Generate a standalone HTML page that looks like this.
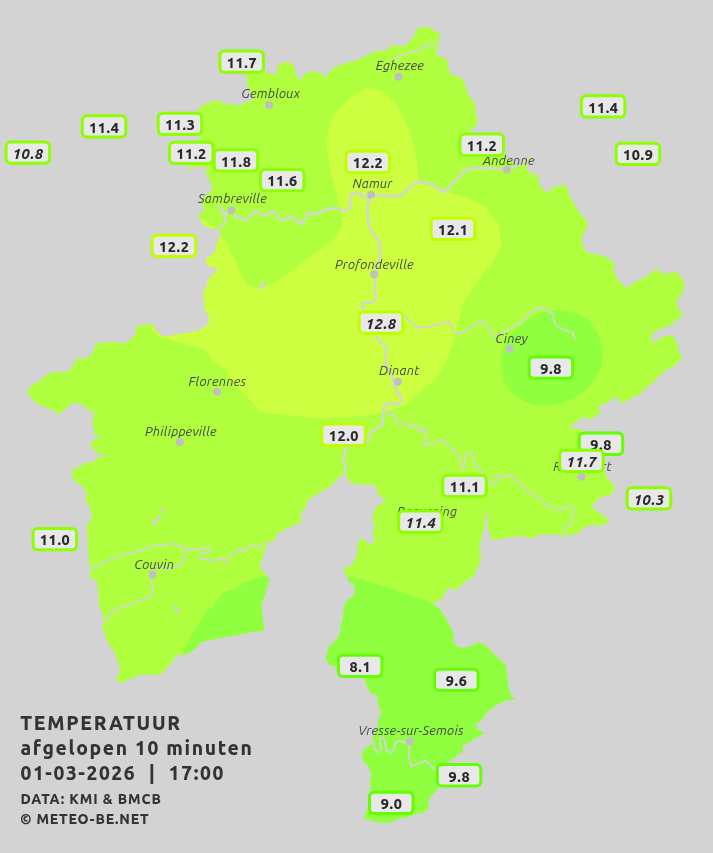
<!DOCTYPE html>
<html><head><meta charset="utf-8"><title>Temperatuur</title>
<style>
html,body{margin:0;padding:0;background:#d3d3d3;}
body{width:713px;height:853px;overflow:hidden;}
svg{display:block;}
.c{font-family:'Ubuntu', 'Liberation Sans', 'DejaVu Sans', sans-serif;font-style:italic;font-size:13px;letter-spacing:0.25px;fill:#454545;}
.l{font-family:'Ubuntu', 'Liberation Sans', 'DejaVu Sans', sans-serif;font-weight:800;font-size:14.5px;letter-spacing:0.6px;fill:#2a2a2a;}
.li{font-style:italic;}
.t{font-family:'Ubuntu', 'Liberation Sans', 'DejaVu Sans', sans-serif;font-weight:800;fill:#333;}
</style></head><body>
<svg width="713" height="853" viewBox="0 0 713 853">
<defs><clipPath id="prov"><polygon points="197.8,111.9 198.5,108.4 200.6,106.3 204.8,104.2 209.0,102.8 213.2,100.7 217.4,100.7 221.6,101.4 224.5,104.9 228.7,103.5 232.9,104.2 237.1,105.6 239.9,106.3 242.7,103.5 246.9,102.1 251.1,100.7 253.9,97.9 251.1,93.7 249.0,89.5 247.6,85.2 246.9,79.6 246.2,74.0 247.0,70.0 264.4,71.2 269.3,73.3 273.5,74.7 277.7,72.6 277.7,65.6 280.6,63.5 286.2,62.1 291.8,63.5 293.5,65.4 296.0,73.0 298.6,80.0 302.3,78.0 306.0,73.0 313.7,71.2 321.3,73.0 326.3,78.0 328.9,73.0 331.4,69.2 339.0,65.4 346.5,62.9 356.6,60.4 366.7,55.3 375.1,51.6 380.0,50.9 386.7,50.3 390.1,47.5 390.7,44.2 394.6,45.9 402.4,46.4 406.9,44.2 411.4,39.1 414.8,35.2 415.3,30.1 420.4,26.8 424.9,27.9 428.2,26.2 431.6,28.5 435.0,32.4 438.3,31.8 440.6,34.1 438.3,37.4 438.9,41.9 439.5,44.7 438.3,47.5 436.1,52.0 437.2,54.8 442.8,57.6 447.3,59.9 448.4,63.2 447.3,66.6 449.6,71.1 451.8,75.0 459.7,76.8 463.5,80.6 466.0,86.9 467.3,93.2 471.1,98.3 474.9,103.3 476.1,113.4 477.7,120.0 476.8,125.0 471.8,128.4 470.0,135.0 480.0,150.0 504.6,155.3 510.5,162.1 518.9,164.6 527.3,158.7 532.4,155.3 530.7,157.9 527.3,162.1 527.3,170.5 530.7,173.9 537.4,174.7 540.8,175.5 537.4,178.1 539.1,184.0 544.1,190.7 547.5,193.2 551.7,189.0 555.9,186.5 564.3,184.8 567.7,189.0 570.2,197.4 574.4,204.1 577.8,210.0 580.0,213.4 586.3,219.7 587.6,226.0 581.3,238.7 583.8,248.8 588.0,252.5 591.1,253.8 599.9,255.0 606.2,257.6 613.8,261.4 613.8,270.2 616.3,277.8 626.4,287.9 634.0,282.8 644.1,277.8 656.7,268.9 664.3,274.0 671.9,272.7 676.9,271.5 679.4,275.2 684.5,282.8 683.2,291.7 676.9,300.5 678.2,309.3 683.2,313.1 679.4,318.2 669.3,325.7 659.2,329.5 651.7,334.6 651.7,343.4 656.7,340.9 664.3,335.8 671.9,335.8 676.9,340.9 678.2,351.0 682.0,358.6 674.4,366.1 664.3,371.2 659.2,376.2 654.2,381.3 646.6,387.6 640.0,394.0 624.2,401.7 619.9,403.1 616.4,396.8 610.1,400.3 605.9,403.8 598.9,405.2 598.2,408.0 601.7,412.3 596.1,415.1 589.1,420.7 584.9,416.5 579.3,419.3 575.1,422.8 570.2,426.3 572.3,428.4 580.7,429.1 585.0,433.0 600.0,440.0 605.0,460.0 601.2,465.8 603.7,470.0 605.6,473.8 606.9,477.6 610.7,481.4 613.2,485.1 615.7,488.9 612.0,492.1 610.7,495.2 608.2,496.5 605.0,495.2 601.9,497.1 598.1,499.7 594.3,502.8 592.4,505.3 593.0,507.9 595.5,510.4 599.3,511.7 601.9,514.8 606.3,517.3 608.2,519.9 606.9,523.6 601.9,525.5 590.5,525.5 586.7,526.2 583.5,528.1 581.0,529.3 581.7,531.9 577.9,533.1 572.8,534.4 569.0,535.6 566.5,536.3 561.5,536.3 560.8,534.4 552.6,534.4 540.6,534.5 532.2,538.7 521.0,535.9 509.8,537.3 501.3,538.7 491.5,540.1 490.1,534.5 487.3,526.1 488.7,514.9 485.9,513.5 484.5,526.1 480.3,542.9 478.9,551.3 481.7,554.2 478.9,565.4 473.3,576.6 464.9,582.2 455.1,590.6 448.1,586.4 445.2,593.4 440.8,599.5 434.9,602.4 433.4,605.3 439.3,608.3 445.2,617.1 449.6,626.0 454.0,633.3 452.5,640.7 457.0,646.6 464.3,648.1 473.2,645.1 479.1,642.2 484.9,645.1 489.4,649.5 496.7,656.9 505.6,664.3 507.0,676.0 508.5,687.8 511.5,696.7 515.9,699.6 506.6,700.1 496.5,705.1 486.4,712.7 481.4,720.3 475.1,725.3 477.6,729.1 483.9,732.9 476.3,738.0 467.5,743.0 461.2,746.8 463.7,750.6 454.9,756.9 446.0,763.2 439.7,768.3 440.0,780.0 438.5,787.2 435.9,791.0 430.9,796.0 428.4,801.1 428.4,808.7 423.3,812.4 415.7,813.7 410.7,816.2 398.1,818.8 390.5,822.5 377.9,822.5 370.3,820.0 364.0,818.8 365.2,813.7 367.8,808.7 370.3,804.9 370.3,791.0 370.3,778.4 371.6,773.3 367.8,765.7 364.0,762.0 361.5,755.6 365.2,748.1 372.8,744.3 371.6,739.2 375.3,732.9 377.9,725.3 379.1,717.8 381.7,714.0 379.1,707.7 377.9,700.1 376.6,695.0 371.5,693.7 367.1,687.8 364.2,677.5 350.0,670.0 337.7,667.2 328.8,664.3 325.9,658.4 327.4,651.0 330.3,645.1 336.2,640.7 340.6,631.9 340.6,626.0 343.6,614.2 344.0,605.6 348.2,599.9 353.8,595.7 355.2,587.3 352.4,583.1 348.2,581.7 348.2,577.5 344.0,571.9 344.0,567.7 351.0,566.3 355.2,559.3 358.0,550.9 357.3,543.9 361.1,537.6 366.1,541.4 371.2,545.2 375.0,540.1 372.4,533.8 375.0,526.2 372.4,518.7 375.0,508.6 381.3,503.5 386.3,499.7 378.8,495.9 376.2,487.1 371.2,484.6 361.1,484.6 351.0,483.3 347.2,478.3 344.7,472.0 338.4,478.3 330.8,485.8 320.7,492.1 310.6,498.5 306.8,501.0 306.8,506.0 300.5,513.6 301.8,521.2 300.5,522.8 286.5,528.4 276.6,534.0 275.2,539.6 268.2,542.4 264.0,550.9 262.6,559.3 259.8,564.9 262.6,570.5 266.8,576.1 269.6,580.3 266.8,587.3 264.0,598.5 261.2,604.2 262.6,615.4 264.0,630.7 251.3,632.1 237.3,634.9 220.5,637.7 200.9,641.9 196.6,647.5 189.6,653.1 181.2,655.1 176.4,654.9 172.9,660.5 170.1,664.7 167.3,667.5 163.1,671.7 158.9,675.6 151.9,674.2 146.3,674.8 142.1,674.5 137.9,675.2 133.7,678.0 128.0,679.4 125.2,681.5 121.0,683.6 119.6,681.5 115.4,680.1 116.8,677.3 119.6,673.1 119.6,666.1 116.8,657.7 114.0,650.7 108.4,643.7 105.6,636.6 102.8,628.2 102.1,624.0 102.8,617.0 101.4,610.0 99.6,607.7 98.2,593.7 96.8,579.6 91.2,579.6 89.8,571.2 89.2,561.3 88.0,551.2 88.0,541.1 86.7,531.0 86.7,524.7 90.5,520.9 91.8,513.3 89.2,505.7 85.4,500.7 86.7,493.1 84.2,488.1 79.1,484.3 75.3,481.8 71.6,475.4 72.8,469.1 80.4,466.6 85.4,462.8 94.3,461.6 96.8,457.8 106.9,455.2 99.3,454.0 94.3,450.2 90.5,446.4 92.0,441.4 95.7,438.9 100.8,436.3 93.2,433.8 94.5,428.8 92.0,423.7 93.2,418.7 94.5,411.1 88.2,411.1 85.6,406.0 80.6,404.8 74.3,402.2 69.2,406.0 62.9,411.1 59.1,414.9 54.1,411.1 49.0,408.6 42.7,406.0 36.4,403.5 31.4,397.2 27.6,394.7 28.8,388.4 32.6,384.6 40.2,380.8 45.2,375.7 52.8,372.0 65.4,372.0 69.2,370.7 71.8,366.9 74.3,364.4 75.5,359.3 80.6,358.6 88.2,358.1 90.7,354.3 94.5,349.2 95.7,342.9 103.3,342.9 113.4,341.7 121.0,342.9 126.0,342.9 131.1,339.1 134.9,335.3 136.1,330.3 137.4,325.2 143.7,325.2 148.8,324.0 152.5,324.0 153.8,327.8 158.9,332.8 160.1,335.2 165.1,336.4 180.3,333.9 195.4,331.4 205.5,327.6 209.3,321.3 208.1,313.7 204.3,308.7 204.3,301.1 203.0,296.0 204.3,291.0 206.8,285.9 209.3,278.4 211.9,274.6 218.2,272.0 215.6,268.3 208.1,265.7 205.5,260.7 208.1,256.9 211.9,254.4 215.6,250.6 216.9,244.3 219.4,238.0 220.7,232.9 216.9,229.1 209.3,227.9 204.3,225.3 201.8,221.6 198.0,217.8 199.2,215.2 204.3,210.2 201.8,202.6 203.1,196.8 208.2,194.2 211.5,190.9 211.5,184.1 208.2,177.4 205.6,170.7 207.3,166.5 193.9,166.5 188.0,172.4 191.0,165.0 199.0,150.0 199.7,139.5 198.9,136.2 198.9,113.5"/></clipPath></defs>
<rect width="713" height="853" fill="#d3d3d3"/>
<g clip-path="url(#prov)">
<rect x="0" y="0" width="713" height="853" fill="#afff3f"/>
<polygon points="366.3,86.9 381.7,90.8 389.4,97.0 397.2,106.2 403.3,117.0 409.5,129.4 412.6,141.7 415.7,154.1 417.2,166.4 418.8,178.8 422.0,184.0 445.0,191.1 466.6,197.2 485.1,206.5 497.5,221.9 501.9,244.3 494.7,258.6 480.4,277.7 463.3,303.3 459.0,320.1 454.8,337.0 448.5,358.1 435.8,379.2 421.1,391.8 408.4,402.4 399.4,406.8 380.3,413.6 361.2,416.0 323.1,418.4 299.2,416.0 273.6,414.3 260.2,412.0 255.7,406.4 248.9,398.5 242.2,391.8 235.5,385.1 228.7,378.3 226.5,370.5 219.8,366.0 210.8,359.3 208.5,351.4 199.6,348.0 188.3,344.7 174.9,341.3 159.2,336.8 152.0,330.0 150.0,320.0 150.0,300.0 180.0,220.0 200.0,218.6 206.2,221.7 212.3,226.3 221.6,235.5 227.8,244.8 233.9,257.1 240.1,272.6 246.3,283.0 252.0,286.5 258.4,288.3 266.8,285.6 273.1,282.6 280.0,278.8 286.4,274.5 304.9,260.2 323.4,247.9 335.8,237.1 341.9,226.3 341.9,213.9 337.7,200.0 335.4,188.0 331.6,175.7 328.5,161.8 326.9,147.9 327.7,134.0 330.8,120.1 337.0,110.9 347.8,100.1 358.6,92.3" fill="#ccff3f"/>
<polygon points="558.5,310.6 578.2,313.6 590.0,321.4 597.8,333.2 602.7,348.9 601.7,364.6 595.8,378.4 586.0,390.1 570.3,400.0 554.6,404.9 538.9,405.8 525.2,401.9 511.4,392.1 503.6,380.3 501.2,366.6 501.6,352.8 505.5,341.0 515.3,329.3 531.1,317.5 544.8,311.6" fill="#8fff3f"/>
<polygon points="272.0,572.0 268.3,574.3 245.9,581.3 237.1,588.0 223.4,592.6 211.8,607.7 206.6,609.4 195.0,630.1 192.6,631.8 184.2,650.0 181.0,655.4 170.0,680.0 300.0,700.0 300.0,570.0" fill="#8fff3f"/>
<polygon points="310.0,566.0 348.0,575.9 390.0,588.0 434.9,603.9 445.0,607.0 520.0,620.0 540.0,830.0 310.0,830.0" fill="#8fff3f"/>
<polygon points="161.3,507.3 164.6,508.4 164.6,510.7 163.0,511.8 162.7,513.7 161.3,513.7" fill="#d3d3d3"/><polygon points="158.5,515.1 159.9,515.7 159.3,518.0 157.9,521.3 154.0,525.8 152.0,524.4 153.4,521.3 156.2,517.4" fill="#d3d3d3"/><polygon points="173.2,605.1 174.9,605.4 176.8,606.8 178.5,609.6 178.5,611.3 180.8,613.2 179.6,613.8 177.4,612.4 176.3,612.7 176.0,610.1 173.5,608.5" fill="#d3d3d3"/><polygon points="261.1,282.2 264.7,282.2 265.8,283.9 264.7,286.4 260.5,288.5 259.7,290.6 258.2,290.2 258.4,288.1 261.1,286.0" fill="#d3d3d3"/>
</g>
<g fill="none" stroke="#d4d4da" stroke-width="2.4" stroke-linejoin="round" stroke-linecap="round">
<polyline points="218.5,206.2 223.1,213.9 230.9,210.9 237.0,217.0 246.3,220.1 255.5,210.9 264.8,215.5 274.0,210.9 280.2,220.1 292.6,217.0 301.8,224.7 308.0,212.4 317.2,213.9 326.5,209.3 335.8,207.8 345.0,211.3 347.9,210.5 350.1,206.1 350.9,198.8 352.3,193.7 356.7,192.2 361.1,193.7 362.6,197.3 368.5,198.1 370.7,195.1" stroke-width="2.5"/>
<polyline points="218.5,206.2 225.7,215.2 224.5,222.8 218.2,229.1" stroke-width="2.5"/>
<polyline points="370.7,195.1 369.2,200.3 367.7,206.1 367.7,216.4 368.5,225.2 372.1,232.5 377.3,238.4 380.2,245.7 380.2,254.5 378.0,263.3 375.8,272.1 373.6,275.1 375.8,279.5 374.3,289.7 376.5,298.5 371.4,302.9 362.6,302.9 361.9,307.3 364.1,310.3" stroke-width="2.5"/>
<polyline points="375.6,336.6 386.9,348.8 385.0,361.9 388.5,369.0 390.3,374.0 393.0,379.0 394.5,385.0 396.5,390.0 399.4,395.0 401.9,400.0 398.5,404.3 391.8,403.4 386.7,403.4 383.4,408.5 383.4,416.9 381.7,425.3 377.5,427.5 371.9,431.3 366.3,442.5 345.6,448.1 343.4,458.1 345.9,468.2 344.7,472.0" stroke-width="2.5"/>
<polyline points="370.7,195.1 374.3,196.6 380.2,195.1 389.0,195.9 395.6,196.5 401.9,195.2 408.2,188.9 415.8,182.6 423.4,181.8 435.8,186.5 445.0,192.6 454.3,181.8 466.6,169.5 476.8,168.0 485.1,167.9 507.1,169.6 527.3,162.0" stroke-width="2.5"/>
<polyline points="388.4,410.1 390.1,415.2 393.5,415.2 396.0,416.9 396.8,422.8 400.2,424.5 405.2,422.8 411.1,427.8 415.3,423.6 419.5,432.0 424.6,427.8 426.3,431.2 425.4,435.4 427.1,440.4 422.9,445.5 426.3,443.0 430.5,444.6 435.5,443.8 440.6,440.4 445.6,440.4 447.3,445.5 452.4,448.9 457.4,453.1 459.9,459.0 462.5,467.4 464.1,469.0 465.0,457.3 467.5,453.9 472.6,453.1 474.2,459.0 475.1,465.7 479.3,468.2 481.0,472.4 488.5,478.6 490.2,481.9 490.8,484.2 495.2,484.0 496.9,481.9 495.8,475.8 497.5,474.6 502.5,478.0 507.0,475.2 509.8,474.1 512.6,476.3 514.9,479.1 519.4,483.6 522.7,485.3 524.4,488.1 526.1,490.9 529.5,493.1 534.0,495.4 537.3,497.6 541.8,500.4 545.0,502.8 547.6,506.6 552.6,507.2 558.9,509.8 564.0,507.9 567.8,506.0 571.6,506.0 573.5,509.1 572.8,514.2 571.6,520.5 570.3,524.3 567.1,526.2 564.0,528.1 564.6,531.9 565.9,534.4 566.5,536.3" stroke-width="1.7"/>
<polyline points="404.2,314.9 408.4,320.1 414.8,324.4 416.9,329.6 421.1,326.5 427.4,327.5 433.7,325.4 442.2,323.3 448.5,321.2 450.6,324.4 452.7,329.6 455.9,332.8 463.3,332.8 467.5,330.7 469.6,327.5 473.8,325.4 478.0,322.2 482.2,321.2 484.4,324.4 488.6,326.5 490.7,332.8 492.8,337.0 497.0,336.0 503.3,331.7 509.7,328.6 516.0,324.4 520.0,323.3 533.0,309.6 542.8,307.7 552.6,313.6 554.6,323.4 562.5,329.3 572.3,332.2 575.2,338.1" stroke-width="1.7"/>
<polyline points="89.2,568.9 100.0,565.0 111.2,558.9 122.4,554.7 136.5,551.9 150.5,546.3 172.9,543.5 187.0,549.1 201.0,549.1 209.4,547.7 209.4,551.9 199.6,554.7 201.0,558.9 212.2,560.3 223.4,558.9 224.8,563.1 229.0,556.1 234.6,553.3 240.3,549.1 243.1,551.9 251.5,544.9 257.1,547.7 265.5,542.1" stroke-width="1.7"/>
<polyline points="187.0,549.1 184.2,556.1 181.3,564.5 170.1,568.7 164.5,568.7 154.7,565.9 151.9,572.9 150.5,578.5 153.3,589.8 150.5,596.8 139.3,601.0 122.4,606.6 111.2,612.2 102.8,623.4" stroke-width="1.7"/>
<polyline points="437.8,769.7 433.8,768.7 429.8,764.7 425.8,760.7 419.8,762.7 411.9,766.7 408.9,758.7 408.9,748.7 409.9,742.8 405.9,742.8 399.9,740.8 394.9,742.8 393.9,748.7 391.9,752.7 385.9,750.7 384.9,740.8 382.9,736.8 379.9,738.8 380.9,748.7 377.9,752.7 375.0,748.7 373.0,740.8 371.0,738.8" stroke-width="1.7"/>
<polyline points="396.3,61.0 396.8,57.1 402.4,54.8 410.3,52.0 417.0,50.9 422.6,47.5 428.2,44.7 431.1,44.0 433.9,44.7 440.0,44.7" stroke-width="1.7"/>
</g>
<g fill="#c0c0c0">
<circle cx="269" cy="105.1" r="4"/>
<circle cx="398.6" cy="76.8" r="4"/>
<circle cx="507.1" cy="169.6" r="4"/>
<circle cx="371" cy="194.8" r="4"/>
<circle cx="231.5" cy="210.2" r="4"/>
<circle cx="374.1" cy="274.3" r="4"/>
<circle cx="397.9" cy="381.8" r="4"/>
<circle cx="217.2" cy="391.7" r="4"/>
<circle cx="509.8" cy="348.9" r="4"/>
<circle cx="179.8" cy="441.9" r="4"/>
<circle cx="152.7" cy="574.6" r="4"/>
<circle cx="409.9" cy="741.2" r="4"/>
<circle cx="581.7" cy="476.7" r="4"/>
<circle cx="415" cy="522" r="4"/>
</g>
<text class="c" x="241.2" y="98.0" textLength="58.95" lengthAdjust="spacingAndGlyphs">Gembloux</text>
<text class="c" x="375.7" y="69.7" textLength="48.50" lengthAdjust="spacingAndGlyphs">Eghezee</text>
<text class="c" x="482.7" y="164.7" textLength="52.20" lengthAdjust="spacingAndGlyphs">Andenne</text>
<text class="c" x="352.5" y="187.8" textLength="40.06" lengthAdjust="spacingAndGlyphs">Namur</text>
<text class="c" x="198" y="203.3" textLength="69.00" lengthAdjust="spacingAndGlyphs">Sambreville</text>
<text class="c" x="335" y="269.0" textLength="78.75" lengthAdjust="spacingAndGlyphs">Profondeville</text>
<text class="c" x="379" y="375.4" textLength="40.50" lengthAdjust="spacingAndGlyphs">Dinant</text>
<text class="c" x="188.6" y="385.6" textLength="57.62" lengthAdjust="spacingAndGlyphs">Florennes</text>
<text class="c" x="495.3" y="342.6" textLength="32.52" lengthAdjust="spacingAndGlyphs">Ciney</text>
<text class="c" x="145" y="435.5" textLength="71.88" lengthAdjust="spacingAndGlyphs">Philippeville</text>
<text class="c" x="134.2" y="568.5" textLength="39.98" lengthAdjust="spacingAndGlyphs">Couvin</text>
<text class="c" x="358.2" y="734.8" textLength="105.39" lengthAdjust="spacingAndGlyphs">Vresse-sur-Semois</text>
<text class="c" x="553.3" y="471.2" textLength="58.53" lengthAdjust="spacingAndGlyphs">Rochefort</text>
<text class="c" x="397" y="515.7" textLength="60.31" lengthAdjust="spacingAndGlyphs">Beauraing</text>
<rect x="219.9" y="51.0" width="43.5" height="21.3" rx="4.5" fill="#e8e8e8" stroke="#8cff00" stroke-width="3"/><text class="l" x="242.0" y="67.9" text-anchor="middle" textLength="30.52" lengthAdjust="spacingAndGlyphs">11.7</text>
<rect x="82.3" y="115.7" width="43.5" height="21.3" rx="4.5" fill="#e8e8e8" stroke="#8cff00" stroke-width="3"/><text class="l" x="104.3" y="132.6" text-anchor="middle" textLength="30.52" lengthAdjust="spacingAndGlyphs">11.4</text>
<rect x="6.1" y="141.9" width="43.5" height="21.3" rx="4.5" fill="#e8e8e8" stroke="#8cff00" stroke-width="3"/><text class="l li" x="28.2" y="158.8" text-anchor="middle" textLength="30.73" lengthAdjust="spacingAndGlyphs">10.8</text>
<rect x="158.2" y="113.3" width="43.5" height="21.3" rx="4.5" fill="#e8e8e8" stroke="#8cff00" stroke-width="3"/><text class="l" x="180.2" y="130.2" text-anchor="middle" textLength="30.52" lengthAdjust="spacingAndGlyphs">11.3</text>
<rect x="169.5" y="142.3" width="43.5" height="21.3" rx="4.5" fill="#e8e8e8" stroke="#8cff00" stroke-width="3"/><text class="l" x="191.6" y="159.2" text-anchor="middle" textLength="30.52" lengthAdjust="spacingAndGlyphs">11.2</text>
<rect x="214.2" y="149.7" width="43.5" height="21.3" rx="4.5" fill="#e8e8e8" stroke="#8cff00" stroke-width="3"/><text class="l" x="236.2" y="166.6" text-anchor="middle" textLength="30.52" lengthAdjust="spacingAndGlyphs">11.8</text>
<rect x="260.5" y="169.4" width="43.5" height="21.3" rx="4.5" fill="#e8e8e8" stroke="#8cff00" stroke-width="3"/><text class="l" x="282.6" y="186.3" text-anchor="middle" textLength="30.52" lengthAdjust="spacingAndGlyphs">11.6</text>
<rect x="346.0" y="151.2" width="43.5" height="21.3" rx="4.5" fill="#e8e8e8" stroke="#bfff00" stroke-width="3"/><text class="l" x="368.1" y="168.1" text-anchor="middle" textLength="30.52" lengthAdjust="spacingAndGlyphs">12.2</text>
<rect x="460.0" y="134.1" width="43.5" height="21.3" rx="4.5" fill="#e8e8e8" stroke="#8cff00" stroke-width="3"/><text class="l" x="482.1" y="151.0" text-anchor="middle" textLength="30.52" lengthAdjust="spacingAndGlyphs">11.2</text>
<rect x="581.4" y="95.7" width="43.5" height="21.3" rx="4.5" fill="#e8e8e8" stroke="#8cff00" stroke-width="3"/><text class="l" x="603.4" y="112.6" text-anchor="middle" textLength="30.52" lengthAdjust="spacingAndGlyphs">11.4</text>
<rect x="616.2" y="143.2" width="43.5" height="21.3" rx="4.5" fill="#e8e8e8" stroke="#8cff00" stroke-width="3"/><text class="l" x="638.2" y="160.1" text-anchor="middle" textLength="30.52" lengthAdjust="spacingAndGlyphs">10.9</text>
<rect x="152.2" y="235.2" width="43.5" height="21.3" rx="4.5" fill="#e8e8e8" stroke="#bfff00" stroke-width="3"/><text class="l" x="174.2" y="252.1" text-anchor="middle" textLength="30.52" lengthAdjust="spacingAndGlyphs">12.2</text>
<rect x="431.2" y="218.2" width="43.5" height="21.3" rx="4.5" fill="#e8e8e8" stroke="#bfff00" stroke-width="3"/><text class="l" x="453.2" y="235.1" text-anchor="middle" textLength="30.52" lengthAdjust="spacingAndGlyphs">12.1</text>
<rect x="359.2" y="311.9" width="43.5" height="21.3" rx="4.5" fill="#e8e8e8" stroke="#bfff00" stroke-width="3"/><text class="l li" x="381.2" y="328.8" text-anchor="middle" textLength="30.73" lengthAdjust="spacingAndGlyphs">12.8</text>
<rect x="529.1" y="356.9" width="43.5" height="21.3" rx="4.5" fill="#e8e8e8" stroke="#62ff00" stroke-width="3"/><text class="l" x="551.1" y="373.8" text-anchor="middle" textLength="21.73" lengthAdjust="spacingAndGlyphs">9.8</text>
<rect x="321.8" y="424.1" width="43.5" height="21.3" rx="4.5" fill="#e8e8e8" stroke="#bfff00" stroke-width="3"/><text class="l" x="343.9" y="441.0" text-anchor="middle" textLength="30.52" lengthAdjust="spacingAndGlyphs">12.0</text>
<rect x="579.2" y="433.1" width="43.5" height="21.3" rx="4.5" fill="#e8e8e8" stroke="#62ff00" stroke-width="3"/><text class="l" x="601.2" y="450.0" text-anchor="middle" textLength="21.73" lengthAdjust="spacingAndGlyphs">9.8</text>
<rect x="559.7" y="450.3" width="43.5" height="21.3" rx="4.5" fill="#e8e8e8" stroke="#8cff00" stroke-width="3"/><text class="l li" x="581.8" y="467.2" text-anchor="middle" textLength="30.73" lengthAdjust="spacingAndGlyphs">11.7</text>
<rect x="442.8" y="475.2" width="43.5" height="21.3" rx="4.5" fill="#e8e8e8" stroke="#8cff00" stroke-width="3"/><text class="l" x="464.9" y="492.1" text-anchor="middle" textLength="30.52" lengthAdjust="spacingAndGlyphs">11.1</text>
<rect x="398.7" y="510.9" width="43.5" height="21.3" rx="4.5" fill="#e8e8e8" stroke="#8cff00" stroke-width="3"/><text class="l li" x="420.8" y="527.8" text-anchor="middle" textLength="30.73" lengthAdjust="spacingAndGlyphs">11.4</text>
<rect x="627.2" y="487.8" width="43.5" height="21.3" rx="4.5" fill="#e8e8e8" stroke="#8cff00" stroke-width="3"/><text class="l li" x="649.2" y="504.7" text-anchor="middle" textLength="30.73" lengthAdjust="spacingAndGlyphs">10.3</text>
<rect x="33.1" y="528.5" width="43.5" height="21.3" rx="4.5" fill="#e8e8e8" stroke="#8cff00" stroke-width="3"/><text class="l" x="55.1" y="545.4" text-anchor="middle" textLength="30.52" lengthAdjust="spacingAndGlyphs">11.0</text>
<rect x="338.4" y="655.2" width="43.5" height="21.3" rx="4.5" fill="#e8e8e8" stroke="#62ff00" stroke-width="3"/><text class="l" x="360.4" y="672.1" text-anchor="middle" textLength="21.73" lengthAdjust="spacingAndGlyphs">8.1</text>
<rect x="434.6" y="669.2" width="43.5" height="21.3" rx="4.5" fill="#e8e8e8" stroke="#62ff00" stroke-width="3"/><text class="l" x="456.7" y="686.1" text-anchor="middle" textLength="21.73" lengthAdjust="spacingAndGlyphs">9.6</text>
<rect x="437.3" y="764.6" width="43.5" height="21.3" rx="4.5" fill="#e8e8e8" stroke="#62ff00" stroke-width="3"/><text class="l" x="459.4" y="781.5" text-anchor="middle" textLength="21.73" lengthAdjust="spacingAndGlyphs">9.8</text>
<rect x="369.5" y="792.3" width="43.5" height="21.3" rx="4.5" fill="#e8e8e8" stroke="#62ff00" stroke-width="3"/><text class="l" x="391.6" y="809.2" text-anchor="middle" textLength="21.73" lengthAdjust="spacingAndGlyphs">9.0</text>
<text class="t" x="20.2" y="730.2" font-size="19.3" textLength="160" lengthAdjust="spacing">TEMPERATUUR</text>
<text class="t" x="20.5" y="755.1" font-size="19.3" textLength="231.3" lengthAdjust="spacing">afgelopen 10 minuten</text>
<text class="t" x="20.5" y="780.2" font-size="19.3" textLength="202.8" lengthAdjust="spacing" xml:space="preserve">01-03-2026  |  17:00</text>
<text class="t" x="20.5" y="803.5" font-size="14" textLength="140.4" lengthAdjust="spacing">DATA: KMI &amp; BMCB</text>
<text class="t" x="20.2" y="823.5" font-size="14" textLength="128.4" lengthAdjust="spacing">© METEO-BE.NET</text>
</svg>
</body></html>
